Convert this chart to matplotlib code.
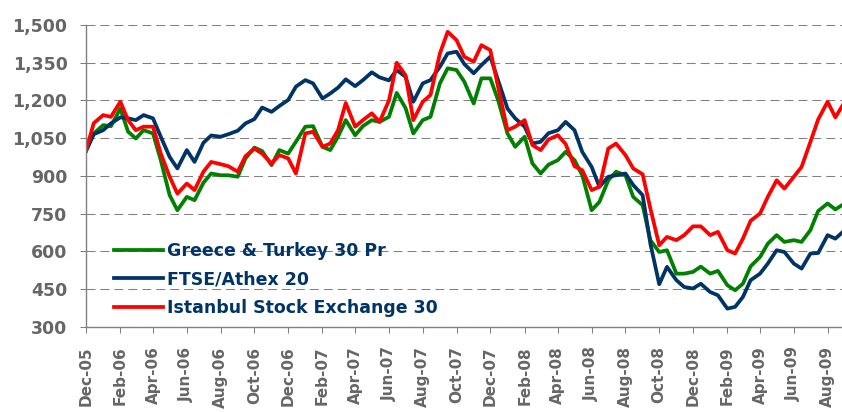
import matplotlib
matplotlib.use("Agg")
import matplotlib.pyplot as plt
from matplotlib.ticker import FuncFormatter
import pandas as pd

# ---- data (semi-monthly readings, index = 1000 at start) ----
start_date = "2005-12-01"
n_points = 91

greece_turkey = [1000, 1069, 1102, 1098, 1168, 1076, 1049, 1082, 1069, 963,
                 824, 764, 817, 804, 873, 910, 903, 903, 897, 970,
                 1013, 999, 943, 1003, 989, 1036, 1096, 1098, 1016, 1003,
                 1056, 1122, 1062, 1098, 1122, 1115, 1135, 1230, 1170, 1069,
                 1122, 1135, 1268, 1328, 1321, 1275, 1188, 1288, 1288, 1202,
                 1069, 1016, 1056, 950, 910, 945, 963, 996, 963, 903,
                 764, 797, 883, 917, 903, 817, 784, 645, 598, 605,
                 512, 512, 519, 540, 512, 523, 466, 446, 472, 541,
                 578, 631, 665, 638, 645, 638, 685, 761, 791, 767, 791]

ftse_athex = [1000, 1066, 1082, 1109, 1133, 1129, 1122, 1142, 1129, 1056,
              976, 930, 1003, 956, 1032, 1061, 1056, 1066, 1080, 1109,
              1126, 1172, 1155, 1178, 1202, 1255, 1281, 1268, 1208, 1228,
              1251, 1284, 1257, 1281, 1312, 1292, 1280, 1321, 1294, 1195,
              1268, 1281, 1334, 1387, 1394, 1345, 1308, 1341, 1374, 1281,
              1168, 1129, 1096, 1029, 1036, 1070, 1082, 1115, 1082, 996,
              936, 857, 897, 903, 910, 864, 824, 631, 470, 539,
              486, 459, 453, 472, 439, 426, 373, 380, 419, 486,
              512, 552, 605, 598, 552, 532, 592, 594, 665, 651, 685]

istanbul_30 = [1000, 1110, 1142, 1135, 1195, 1122, 1082, 1096, 1096, 989,
               897, 830, 870, 844, 917, 956, 947, 939, 917, 979,
               1009, 989, 950, 983, 970, 910, 1069, 1076, 1016, 1029,
               1082, 1190, 1096, 1122, 1149, 1115, 1200, 1350, 1300, 1122,
               1195, 1222, 1387, 1473, 1440, 1374, 1354, 1420, 1400, 1255,
               1082, 1096, 1122, 1023, 1003, 1045, 1062, 1027, 939, 923,
               844, 857, 1009, 1029, 983, 930, 907, 771, 625, 658,
               645, 665, 700, 700, 665, 678, 605, 592, 651, 722,
               751, 817, 883, 850, 897, 936, 1036, 1125, 1195, 1133, 1195]

series_names = ["Greece & Turkey 30 Pr", "FTSE/Athex 20", "Istanbul Stock Exchange 30"]
series_colors = ["#008000", "#003366", "#FF0000"]
y_ticks = [300, 450, 600, 750, 900, 1050, 1200, 1350, 1500]
tick_start, tick_end = "2005-12-01", "2009-08-01"

dates = pd.date_range(start_date, periods=n_points, freq="SMS")

fig = plt.figure(figsize=(8.42, 4.12), dpi=100)
ax = fig.add_axes([86 / 842, 85 / 412, 756 / 842, 302 / 412])

for vals, name, col in zip([greece_turkey, ftse_athex, istanbul_30], series_names, series_colors):
    ax.plot(dates, vals, color=col, lw=2.7, label=name, solid_joinstyle="round")

ax.set_ylim(300, 1500)
ax.set_yticks(y_ticks)
ax.yaxis.set_major_formatter(FuncFormatter(lambda v, p: f"{int(v):,}"))
ax.set_xlim(pd.Timestamp("2005-12-01"), pd.Timestamp("2009-08-27"))
xt = pd.date_range(tick_start, tick_end, freq="2MS")
ax.set_xticks(xt)
ax.set_xticklabels([d.strftime("%b-%y") for d in xt], rotation=90)

gray = "#808080"
label_gray = "#666666"
ax.grid(axis="y", color=gray, lw=0.75, dashes=(8.6, 4.8))
ax.grid(axis="x", visible=False)
ax.set_axisbelow(True)
for s in ["top", "right"]:
    ax.spines[s].set_visible(False)
for s in ["left", "bottom"]:
    ax.spines[s].set_color(gray)
    ax.spines[s].set_linewidth(1.0)

ax.tick_params(axis="y", direction="out", length=4.3, width=0.75, color=gray,
               pad=9, labelsize=12.5, labelcolor=label_gray)
ax.tick_params(axis="x", direction="out", length=4.0, width=0.75, color=gray,
               pad=10, labelsize=11, labelcolor=label_gray)
for lab in ax.get_xticklabels() + ax.get_yticklabels():
    lab.set_fontweight("bold")

leg = ax.legend(loc="upper left", bbox_to_anchor=(0.037, 0.28), frameon=False,
                handlelength=2.8, handletextpad=0.25, labelspacing=0.58,
                borderpad=0, borderaxespad=0,
                prop={"weight": "bold", "size": 12.5})
for t in leg.get_texts():
    t.set_color("#003366")

fig.savefig("out.png", dpi=100)
